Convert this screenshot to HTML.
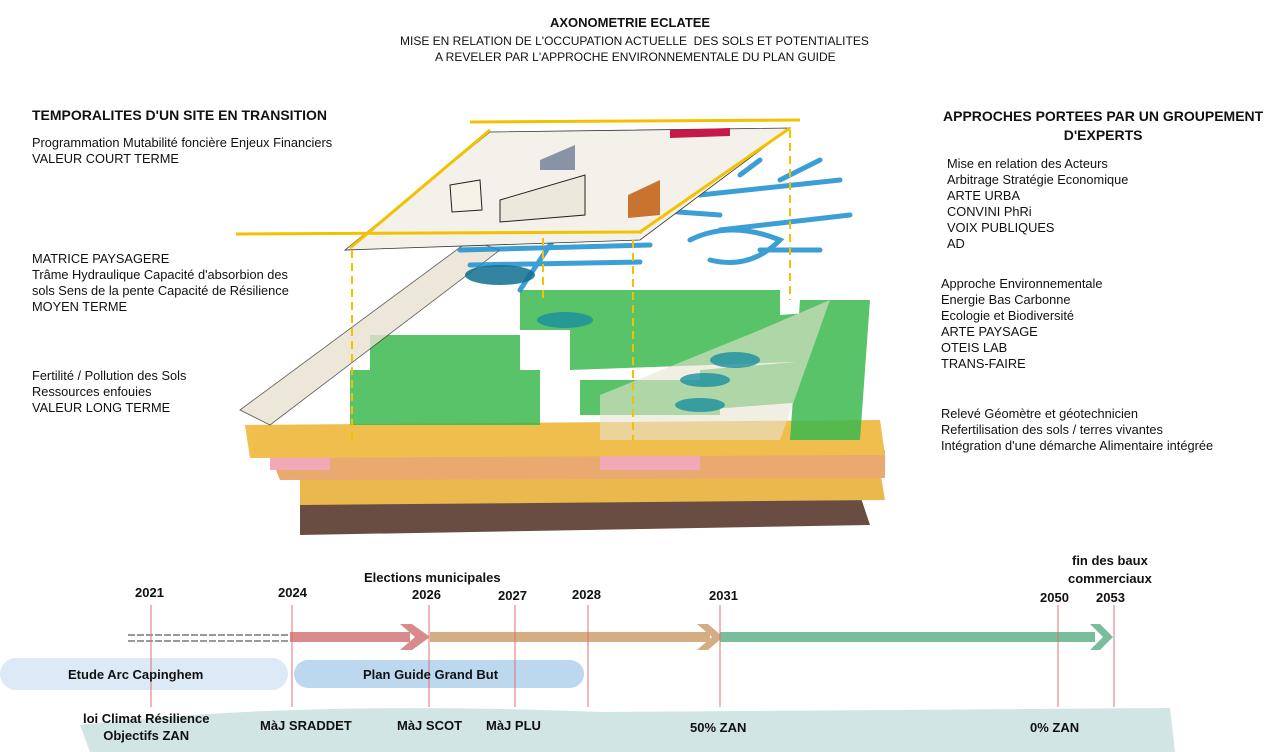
<!DOCTYPE html>
<html><head><meta charset="utf-8"><style>
body{margin:0;width:1280px;height:752px;background:#fff;position:relative;overflow:hidden;font-family:"Liberation Sans",sans-serif;color:#111}
.t{position:absolute;white-space:nowrap}
.s{font-size:12.8px;line-height:16px}
.b{font-weight:bold}
</style></head><body>
<svg width="1280" height="752" style="position:absolute;left:0;top:0">
<g opacity="0.9">
<path d="M300 500 L860 495 L870 525 L300 535 Z" fill="#5a3a2e"/>
<path d="M300 475 L880 470 L885 500 L300 505 Z" fill="#e9b13a"/>
<path d="M270 455 L885 450 L885 478 L280 480 Z" fill="#e7a060"/>
<path d="M270 450 L330 450 L330 470 L270 470 Z" fill="#f0a0b0"/>
<path d="M600 445 L700 445 L700 470 L600 470 Z" fill="#f0a0b0"/>
<path d="M245 425 L880 420 L885 455 L250 458 Z" fill="#efb83a"/>
</g>
<g fill="#3cb94f" opacity="0.85">
<path d="M350 370 L540 370 L540 425 L350 425 Z"/>
<path d="M370 335 L520 335 L520 370 L370 370 Z"/>
<path d="M520 290 L780 290 L780 330 L520 330 Z"/>
<path d="M570 330 L850 310 L850 360 L570 370 Z"/>
<path d="M580 380 L720 380 L720 415 L580 415 Z"/>
<path d="M700 370 L820 360 L830 400 L700 410 Z"/>
<path d="M800 300 L870 300 L860 440 L790 440 Z"/>
</g>
<path d="M600 395 L760 330 L830 300 L780 440 L600 440 Z" fill="#e8e2d0" opacity="0.6"/>
<path d="M240 410 L470 240 L500 250 L270 425 Z" fill="#e8e2d0" opacity="0.8" stroke="#333" stroke-width="0.8"/>
<g stroke="#1a8fd0" stroke-width="5" fill="none" opacity="0.85" stroke-linecap="round">
<path d="M430 240 L560 230 M460 250 L650 245 M470 265 L640 262 M560 230 L520 290 M650 210 L720 215 M700 195 L840 180 M720 230 L850 215 M760 250 L820 250 M740 175 L760 160 M780 180 L820 160"/>
<path d="M690 240 q40 -20 90 0 q-30 30 -70 20" />
</g>
<ellipse cx="500" cy="275" rx="35" ry="10" fill="#0f6f8f" opacity="0.85"/>
<ellipse cx="565" cy="320" rx="28" ry="8" fill="#1a8fa0" opacity="0.8"/>
<ellipse cx="735" cy="360" rx="25" ry="8" fill="#1a8fa0" opacity="0.8"/>
<ellipse cx="705" cy="380" rx="25" ry="7" fill="#1a8fa0" opacity="0.8"/>
<ellipse cx="700" cy="405" rx="25" ry="7" fill="#1a8fa0" opacity="0.8"/>
<path d="M345 250 L490 132 L790 128 L640 240 Z" fill="#f4f1ea" stroke="#333" stroke-width="0.8"/>
<path d="M500 200 L585 175 L585 215 L500 222 Z" fill="#ece8dc" stroke="#222"/>
<path d="M628 195 L660 180 L660 215 L628 218 Z" fill="#c87430"/>
<path d="M540 160 L575 145 L575 170 L540 170 Z" fill="#8a93a5"/>
<path d="M670 130 L730 128 L730 136 L670 138 Z" fill="#c8184a"/>
<path d="M450 185 L480 180 L482 210 L452 212 Z" fill="#f6f2e8" stroke="#222"/>
<g stroke="#f2c200" stroke-width="3" fill="none">
<path d="M236 234 L642 232 M350 248 L490 130 M470 122 L800 120 M640 232 L790 128"/>
<path d="M352 250 L352 440 M543 238 L543 300 M633 240 L633 440 M790 130 L790 300" stroke-dasharray="8 5" stroke-width="2"/>
</g>
<path d="M80 725 Q300 700 600 712 L1170 708 L1175 752 L90 752 Z" fill="#c9e0df" opacity="0.85"/>
<rect x="0" y="658" width="288" height="32" rx="16" fill="#dbeaf6"/>
<rect x="294" y="660" width="290" height="28" rx="14" fill="#bcd8ee"/>
<g stroke="#999" stroke-width="2"><line x1="128" y1="635" x2="290" y2="635" stroke-dasharray="7 2"/><line x1="128" y1="641" x2="290" y2="641" stroke-dasharray="7 2"/></g>
<rect x="290" y="632" width="120" height="10" fill="#d98a8a"/>
<path d="M400 624 L412 624 L430 637 L412 650 L400 650 L415 637 Z" fill="#d98a8a"/>
<rect x="430" y="632" width="280" height="10" fill="#d4ad82"/>
<path d="M697 624 L708 624 L723 637 L708 650 L697 650 L712 637 Z" fill="#d4ad82"/>
<rect x="720" y="632" width="375" height="10" fill="#78be9a"/>
<path d="M1090 624 L1100 624 L1113 637 L1100 650 L1090 650 L1103 637 Z" fill="#78be9a"/>
<g stroke="#e07070" stroke-width="1">
<line x1="151" y1="605" x2="151" y2="707"/><line x1="292" y1="605" x2="292" y2="707"/><line x1="429" y1="605" x2="429" y2="707"/><line x1="515" y1="605" x2="515" y2="707"/><line x1="588" y1="605" x2="588" y2="707"/><line x1="720" y1="605" x2="720" y2="707"/><line x1="1058" y1="605" x2="1058" y2="707"/><line x1="1114" y1="605" x2="1114" y2="707"/>
</g>
</svg>
<div class="t b" style="left:550px;top:15px;font-size:13px">AXONOMETRIE ECLATEE</div>
<div class="t s" style="left:400px;top:33px;font-size:12px">MISE EN RELATION DE L'OCCUPATION ACTUELLE&nbsp; DES SOLS ET POTENTIALITES</div>
<div class="t s" style="left:435px;top:49px;font-size:12px">A REVELER PAR L'APPROCHE ENVIRONNEMENTALE DU PLAN GUIDE</div>
<div class="t b" style="left:32px;top:107px;font-size:14px">TEMPORALITES D'UN SITE EN TRANSITION</div>
<div class="t s" style="left:32px;top:135px">Programmation Mutabilité foncière Enjeux Financiers<br>VALEUR COURT TERME</div>
<div class="t s" style="left:32px;top:251px">MATRICE PAYSAGERE<br>Trâme Hydraulique Capacité d'absorbion des<br>sols Sens de la pente Capacité de Résilience<br>MOYEN TERME</div>
<div class="t s" style="left:32px;top:368px">Fertilité / Pollution des Sols<br>Ressources enfouies<br>VALEUR LONG TERME</div>
<div class="t b" style="left:943px;top:107px;font-size:14px;text-align:center;line-height:19px">APPROCHES PORTEES PAR UN GROUPEMENT<br>D'EXPERTS</div>
<div class="t s" style="left:947px;top:156px">Mise en relation des Acteurs<br>Arbitrage Stratégie Economique<br>ARTE URBA<br>CONVINI PhRi<br>VOIX PUBLIQUES<br>AD</div>
<div class="t s" style="left:941px;top:276px">Approche Environnementale<br>Energie Bas Carbonne<br>Ecologie et Biodiversité<br>ARTE PAYSAGE<br>OTEIS LAB<br>TRANS-FAIRE</div>
<div class="t s" style="left:941px;top:406px">Relevé Géomètre et géotechnicien<br>Refertilisation des sols / terres vivantes<br>Intégration d'une démarche Alimentaire intégrée</div>
<div class="t b" style="left:1068px;top:552px;font-size:13px;text-align:center;line-height:18px">fin des baux<br>commerciaux</div>
<div class="t b" style="left:364px;top:570px;font-size:13px">Elections municipales</div>
<div class="t b" style="left:135px;top:585px;font-size:13px">2021</div>
<div class="t b" style="left:278px;top:585px;font-size:13px">2024</div>
<div class="t b" style="left:412px;top:587px;font-size:13px">2026</div>
<div class="t b" style="left:498px;top:588px;font-size:13px">2027</div>
<div class="t b" style="left:572px;top:587px;font-size:13px">2028</div>
<div class="t b" style="left:709px;top:588px;font-size:13px">2031</div>
<div class="t b" style="left:1040px;top:590px;font-size:13px">2050</div>
<div class="t b" style="left:1096px;top:590px;font-size:13px">2053</div>
<div class="t b" style="left:68px;top:667px;font-size:13px">Etude Arc Capinghem</div>
<div class="t b" style="left:363px;top:667px;font-size:13px">Plan Guide Grand But</div>
<div class="t b" style="left:83px;top:710px;font-size:13px;text-align:center;line-height:17px">loi Climat Résilience<br>Objectifs ZAN</div>
<div class="t b" style="left:260px;top:718px;font-size:13px">MàJ SRADDET</div>
<div class="t b" style="left:397px;top:718px;font-size:13px">MàJ SCOT</div>
<div class="t b" style="left:486px;top:718px;font-size:13px">MàJ PLU</div>
<div class="t b" style="left:690px;top:720px;font-size:13px">50% ZAN</div>
<div class="t b" style="left:1030px;top:720px;font-size:13px">0% ZAN</div>
</body></html>
